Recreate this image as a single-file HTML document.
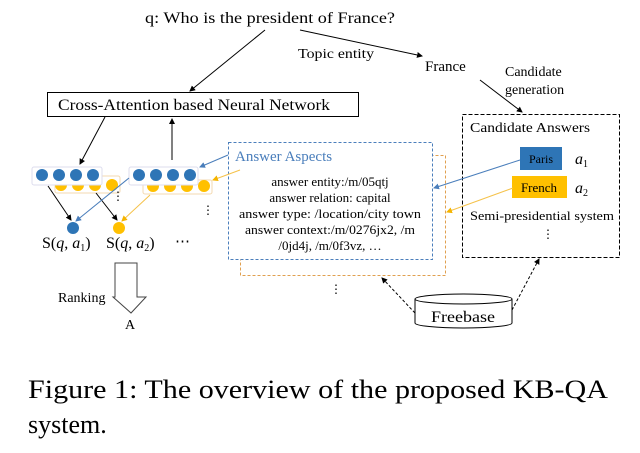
<!DOCTYPE html>
<html><head><meta charset="utf-8"><style>
html,body{margin:0;padding:0;background:#fff}
svg{display:block;font-family:"Liberation Serif",serif}
</style></head><body>
<svg width="640" height="453" viewBox="0 0 640 453" xmlns="http://www.w3.org/2000/svg">
<defs>
<marker id="ak" markerWidth="6" markerHeight="6" refX="5" refY="3" orient="auto"><path d="M0,0L6,3L0,6z" fill="#000"/></marker>
<marker id="ab" markerWidth="6" markerHeight="6" refX="5" refY="3" orient="auto"><path d="M0,0L6,3L0,6z" fill="#4a7ebb"/></marker>
<marker id="ay" markerWidth="6" markerHeight="6" refX="5" refY="3" orient="auto"><path d="M0,0L6,3L0,6z" fill="#f5b400"/></marker>
</defs>
<text x="145" y="23" font-size="16" textLength="250" lengthAdjust="spacingAndGlyphs">q: Who is the president of France?</text>
<line x1="265" y1="30" x2="190" y2="91" stroke="#000" marker-end="url(#ak)"/>
<line x1="300" y1="30" x2="422" y2="56" stroke="#000" marker-end="url(#ak)"/>
<text x="298" y="58" font-size="14" textLength="76" lengthAdjust="spacingAndGlyphs">Topic entity</text>
<text x="425" y="71" font-size="15">France</text>
<text x="505" y="76" font-size="14">Candidate</text>
<text x="505" y="94" font-size="14">generation</text>
<line x1="480" y1="80" x2="522" y2="112" stroke="#000" marker-end="url(#ak)"/>
<rect x="47.5" y="92.5" width="311" height="24" fill="#fff" stroke="#000"/>
<text x="58" y="110" font-size="16" textLength="272" lengthAdjust="spacingAndGlyphs">Cross-Attention based Neural Network</text>
<line x1="105" y1="117" x2="80" y2="164" stroke="#000" marker-end="url(#ak)"/>
<line x1="172" y1="160" x2="172" y2="119" stroke="#000" marker-end="url(#ak)"/>
<rect x="55" y="176" width="65" height="17" rx="2" fill="#fff" stroke="#f3d9b0"/>
<g fill="#ffc000"><circle cx="61" cy="185" r="6"/><circle cx="78" cy="185" r="6"/><circle cx="95" cy="185" r="6"/><circle cx="112" cy="185" r="6"/></g>
<rect x="32" y="167" width="70" height="18" rx="2" fill="#fff" stroke="#dde"/>
<g fill="#2e75b6"><circle cx="42" cy="175" r="6"/><circle cx="59" cy="175" r="6"/><circle cx="76" cy="175" r="6"/><circle cx="93" cy="175" r="6"/></g>
<rect x="143" y="180" width="69" height="14" rx="2" fill="#fff" stroke="#f3d9b0"/>
<g fill="#ffc000"><circle cx="153" cy="186" r="6"/><circle cx="170" cy="186" r="6"/><circle cx="187" cy="186" r="6"/><circle cx="204" cy="186" r="6"/></g>
<rect x="129" y="167" width="69" height="18" rx="2" fill="#fff" stroke="#dde"/>
<g fill="#2e75b6"><circle cx="139" cy="175" r="6"/><circle cx="156" cy="175" r="6"/><circle cx="173" cy="175" r="6"/><circle cx="190" cy="175" r="6"/></g>
<text x="112" y="200" font-size="12">⋮</text>
<text x="202" y="214" font-size="12">⋮</text>
<line x1="48" y1="186" x2="71" y2="220" stroke="#000" marker-end="url(#ak)"/>
<line x1="96" y1="193" x2="117" y2="220" stroke="#000" marker-end="url(#ak)"/>
<line x1="129" y1="178" x2="76" y2="221" stroke="#4a7ebb" marker-end="url(#ab)"/>
<line x1="150" y1="195" x2="122" y2="221" stroke="#f5c24a" marker-end="url(#ay)"/>
<circle cx="73" cy="228" r="6" fill="#2e75b6"/>
<circle cx="119" cy="228" r="6" fill="#ffc000"/>
<text x="42" y="248" font-size="16">S(<tspan font-style="italic">q</tspan>, <tspan font-style="italic">a</tspan><tspan font-size="10" dy="3">1</tspan><tspan dy="-3">)</tspan></text>
<text x="106" y="248" font-size="16">S(<tspan font-style="italic">q</tspan>, <tspan font-style="italic">a</tspan><tspan font-size="10" dy="3">2</tspan><tspan dy="-3">)</tspan></text>
<text x="175" y="246" font-size="15">⋯</text>
<path d="M115,263H137V297H146L131,313L113,297H115Z" fill="#fff" stroke="#444"/>
<text x="58" y="302" font-size="14">Ranking</text>
<text x="125" y="329" font-size="14">A</text>
<rect x="240.5" y="155.5" width="205" height="120" fill="#fff" stroke="#e0a050" stroke-dasharray="3,2"/>
<rect x="228.5" y="142.5" width="204" height="117" fill="#fff" stroke="#4a7ebb" stroke-dasharray="3,2"/>
<text x="235" y="161" font-size="15" fill="#4a7ebb">Answer Aspects</text>
<g font-size="13" text-anchor="middle">
<text x="330" y="186">answer entity:/m/05qtj</text>
<text x="330" y="202">answer relation: capital</text>
<text x="330" y="218" textLength="182" lengthAdjust="spacingAndGlyphs">answer type: /location/city town</text>
<text x="330" y="234" textLength="170" lengthAdjust="spacingAndGlyphs">answer context:/m/0276jx2, /m</text>
<text x="330" y="250">/0jd4j,  /m/0f3vz, …</text>
</g>
<line x1="228" y1="155" x2="200" y2="167" stroke="#4a7ebb" marker-end="url(#ab)"/>
<line x1="240" y1="170" x2="213" y2="180" stroke="#f5c24a" marker-end="url(#ay)"/>
<text x="330" y="293" font-size="12">⋮</text>
<rect x="462.5" y="114.5" width="157" height="143" fill="#fff" stroke="#000" stroke-dasharray="4,2"/>
<text x="470" y="132" font-size="14" textLength="120" lengthAdjust="spacingAndGlyphs">Candidate Answers</text>
<rect x="520" y="147" width="42" height="23" fill="#2e75b6"/>
<text x="541" y="163" font-size="12" text-anchor="middle">Paris</text>
<text x="575" y="164" font-size="16" font-style="italic">a<tspan font-size="10" dy="3" font-style="normal">1</tspan></text>
<rect x="512" y="176" width="55" height="22" fill="#ffc000"/>
<text x="539" y="192" font-size="13" text-anchor="middle">French</text>
<text x="575" y="193" font-size="16" font-style="italic">a<tspan font-size="10" dy="3" font-style="normal">2</tspan></text>
<text x="542" y="220" font-size="13" text-anchor="middle" textLength="144" lengthAdjust="spacingAndGlyphs">Semi-presidential system</text>
<text x="542" y="238" font-size="12">⋮</text>
<line x1="520" y1="160" x2="434" y2="188" stroke="#4a7ebb" marker-end="url(#ab)"/>
<line x1="513" y1="188" x2="447" y2="212" stroke="#f5c24a" marker-end="url(#ay)"/>
<path d="M415,299V323A48.5,5 0 0 0 512,323V299" fill="#fff" stroke="#000"/>
<ellipse cx="463.5" cy="299" rx="48.5" ry="5" fill="#fff" stroke="#000"/>
<text x="463" y="322" font-size="16" text-anchor="middle" textLength="64" lengthAdjust="spacingAndGlyphs">Freebase</text>
<line x1="415" y1="313" x2="382" y2="278" stroke="#000" stroke-dasharray="3,2" marker-end="url(#ak)"/>
<line x1="512" y1="310" x2="539" y2="259" stroke="#000" stroke-dasharray="3,2" marker-end="url(#ak)"/>
<text x="28" y="398" font-size="26" textLength="580" lengthAdjust="spacingAndGlyphs">Figure 1: The overview of the proposed KB-QA</text>
<text x="28" y="433" font-size="26">system.</text>
</svg>
</body></html>
